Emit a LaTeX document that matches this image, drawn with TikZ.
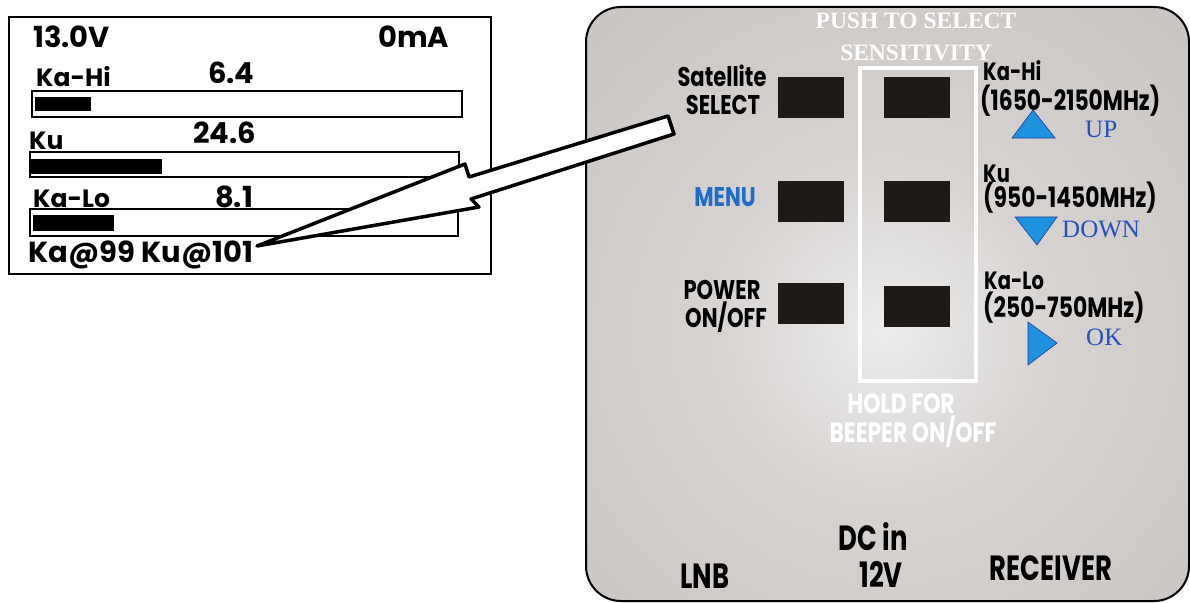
\documentclass[tikz,border=0pt]{standalone}
\usepackage{fontspec}
\setmainfont{Liberation Serif}
\newfontfamily\lcdfont{Poppins}
\newfontfamily\condfont[FakeStretch=0.78]{Poppins}
\newfontfamily\footfont[FakeStretch=0.74]{Poppins}
\usetikzlibrary{positioning}

\definecolor{keyblack}{HTML}{1E1A18}
\definecolor{panelA}{HTML}{EEEDEC}
\definecolor{panelB}{HTML}{D6D3D1}
\definecolor{panelC}{HTML}{C2BEBB}
\definecolor{panelD}{HTML}{ABA7A3}
\definecolor{arrowblue}{HTML}{1E92DE}
\definecolor{edgeblue}{HTML}{1A3A9A}
\definecolor{textblue}{HTML}{2550C0}
\definecolor{menublue}{HTML}{1E6CCC}

\pgfdeclareradialshading{panelglow}{\pgfpoint{0bp}{0bp}}{%
  color(0bp)=(panelA); color(9bp)=(panelB); color(30bp)=(panelC); color(50bp)=(panelD)}

\begin{document}
\begin{tikzpicture}[
			x=1pt, y=-1pt,
			node distance={106pt},
			btn/.style = {fill=keyblack, minimum width=66pt, minimum height=41pt, inner sep=0pt},
			bar/.style = {draw, line width=1.6pt, fill=white},
			lcd/.style = {font=\lcdfont\bfseries\fontsize{25}{25}\selectfont, anchor=base west, inner sep=0pt},
			num/.style = {lcd, font=\lcdfont\bfseries\fontsize{29}{29}\selectfont},
			lbl/.style = {font=\condfont\bfseries\fontsize{27}{27}\selectfont, anchor=base, inner sep=0pt},
			rlbl/.style = {lbl, anchor=base west},
			wlbl/.style = {lbl, text=white, font=\condfont\bfseries\fontsize{28}{28}\selectfont},
			serif/.style = {font=\bfseries\fontsize{23.5}{23.5}\selectfont, text=white, anchor=base, inner sep=0pt},
			bluetxt/.style = {font=\fontsize{25}{25}\selectfont, text=textblue, anchor=base west, inner sep=0pt},
			tri/.style = {fill=arrowblue, draw=edgeblue, line width=0.6pt},
			foot/.style = {font=\footfont\bfseries\fontsize{35}{35}\selectfont, anchor=base, inner sep=0pt}
		]
		\useasboundingbox (0,0) rectangle (1190,602);
		% meter display
		\draw[line width=2pt, fill=white] (9,17) rectangle (491,274);
		\node[num] (volt) at (33,48) {13.0V};
		\node[num] (amp) at (378,48) {0mA};
		\node[lcd] (kahi) at (36,86) {Ka-Hi};
		\node[num] (kahival) at (208,83) {6.4};
		\draw[bar] (32,91) rectangle (462,117);
		\fill (35,97) rectangle (91,111);
		\node[lcd] (ku) at (29,149) {Ku};
		\node[num] (kuval) at (193,143) {24.6};
		\draw[bar] (30,152) rectangle (459,177);
		\fill (31,159) rectangle (162,174);
		\node[lcd] (kalo) at (33,207) {Ka-Lo};
		\node[num] (kaloval) at (215,207) {8.1};
		\draw[bar] (30,209) rectangle (458,236);
		\fill (33,215) rectangle (114,231);
		\node[num] (status) at (28,262) {Ka@99 Ku@101};
		% panel
		\fill[panelD, rounded corners=35pt] (586,7) rectangle (1189,601);
		\begin{scope}
			\clip[rounded corners=35pt] (586,7) rectangle (1189,601);
			\shade[shading=panelglow] (885,330) circle (470);
		\end{scope}
		\draw[line width=2pt, rounded corners=35pt] (586,7) rectangle (1189,601);
		\draw[white, line width=3.5pt] (860,68) rectangle (976,381);
		\node[serif] (push) at (916,29) {PUSH TO SELECT};
		\node[serif] (sens) at (916,60) {SENSITIVITY};
		% buttons
		\node[btn] (b1) at (811,97) {};
		\node[btn] (b2) [right of=b1] {};
		\node[btn] (b3) [below of=b1, node distance=104pt] {};
		\node[btn] (b4) [right of=b3] {};
		\node[btn] (b5) [below of=b3, node distance=102pt] {};
		\node[btn] (b6) [right of=b5, yshift=-3pt] {};
		% left labels
		\node[lbl] (sat) at (722,86) {Satellite};
		\node[lbl] (sel) at (723,114) {SELECT};
		\node[lbl, text=menublue] (menu) at (725,206) {MENU};
		\node[lbl] (pwr) at (722,299) {POWER};
		\node[lbl] (onoff) at (726,327) {ON/OFF};
		% right labels
		\node[rlbl, font=\condfont\bfseries\fontsize{25}{25}\selectfont] (hi) at (983,80) {Ka-Hi};
		\node[rlbl, font=\condfont\bfseries\fontsize{28}{28}\selectfont] (hirange) at (980,110) {(1650-2150MHz)};
		\node[rlbl, font=\condfont\bfseries\fontsize{25}{25}\selectfont] (mid) at (983,182) {Ku};
		\node[rlbl, font=\condfont\bfseries\fontsize{28}{28}\selectfont] (midrange) at (983,207) {(950-1450MHz)};
		\node[rlbl, font=\condfont\bfseries\fontsize{25}{25}\selectfont] (lo) at (984,289) {Ka-Lo};
		\node[rlbl, font=\condfont\bfseries\fontsize{28}{28}\selectfont] (lorange) at (983,317) {(250-750MHz)};
		\draw[tri] (1033,110) -- (1055,138) -- (1012,138) -- cycle;
		\node[bluetxt] (up) at (1085,137) {UP};
		\draw[tri] (1015,217) -- (1057,217) -- (1037,245) -- cycle;
		\node[bluetxt] (down) at (1062,237) {DOWN};
		\draw[tri] (1028,322) -- (1057,343) -- (1028,365) -- cycle;
		\node[bluetxt] (ok) at (1086,345) {OK};
		\node[wlbl] (hold) at (901,413) {HOLD FOR};
		\node[wlbl] (beep) at (913,442) {BEEPER ON/OFF};
		% sockets
		\node[foot] (lnb) at (705,588) {LNB};
		\node[foot] (dc) at (873,550) {DC in};
		\node[foot] (volts) at (881,587) {12V};
		\node[foot] (rcv) at (1051,580) {RECEIVER};
		% pointer
		\coordinate (tip) at (257,246);
		\draw[line width=3.5pt, fill=white, line join=round] (tip) -- (465,164) -- (469,177) -- (668,116) -- (674,134) -- (471,199) -- (479,207) -- cycle;
	\end{tikzpicture}
\end{document}
